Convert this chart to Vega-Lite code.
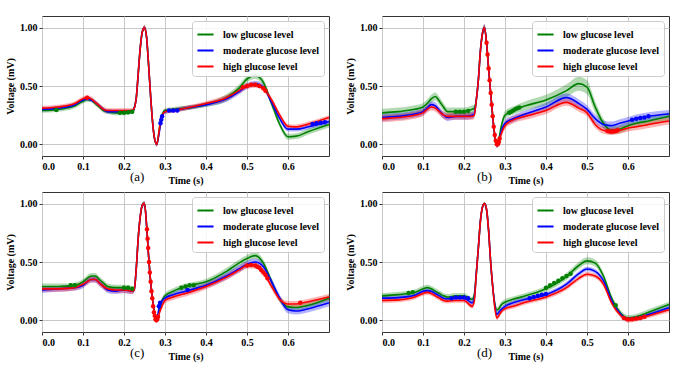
{
"$schema":"https://vega.github.io/schema/vega-lite/v6.json",
"padding":{"left":5,"top":15,"right":5,"bottom":5},
"background":"white",
"datasets":{
"cv":[
{"p":"a","s":"L","t":0,"v":0.29,"e":0.02},{"p":"a","s":"L","t":0.04,"v":0.30,"e":0.02},{"p":"a","s":"L","t":0.08,"v":0.33,"e":0.02},{"p":"a","s":"L","t":0.1,"v":0.37,"e":0.02},{"p":"a","s":"L","t":0.11,"v":0.385,"e":0.02},{"p":"a","s":"L","t":0.12,"v":0.38,"e":0.02},{"p":"a","s":"L","t":0.13,"v":0.35,"e":0.02},{"p":"a","s":"L","t":0.14,"v":0.32,"e":0.02},{"p":"a","s":"L","t":0.15,"v":0.29,"e":0.02},{"p":"a","s":"L","t":0.16,"v":0.28,"e":0.02},{"p":"a","s":"L","t":0.18,"v":0.27,"e":0.02},{"p":"a","s":"L","t":0.2,"v":0.27,"e":0.02},{"p":"a","s":"L","t":0.22,"v":0.28,"e":0.02},{"p":"a","s":"L","t":0.225,"v":0.31,"e":0.02},{"p":"a","s":"L","t":0.23,"v":0.40,"e":0.02},{"p":"a","s":"L","t":0.235,"v":0.62,"e":0.02},{"p":"a","s":"L","t":0.24,"v":0.84,"e":0.02},{"p":"a","s":"L","t":0.245,"v":0.97,"e":0.02},{"p":"a","s":"L","t":0.25,"v":1.0,"e":0.02},{"p":"a","s":"L","t":0.255,"v":0.92,"e":0.02},{"p":"a","s":"L","t":0.26,"v":0.68,"e":0.02},{"p":"a","s":"L","t":0.265,"v":0.41,"e":0.02},{"p":"a","s":"L","t":0.27,"v":0.18,"e":0.02},{"p":"a","s":"L","t":0.275,"v":0.04,"e":0.02},{"p":"a","s":"L","t":0.28,"v":0.0,"e":0.02},{"p":"a","s":"L","t":0.285,"v":0.10,"e":0.02},{"p":"a","s":"L","t":0.29,"v":0.22,"e":0.02},{"p":"a","s":"L","t":0.3,"v":0.29,"e":0.02},{"p":"a","s":"L","t":0.32,"v":0.30,"e":0.02},{"p":"a","s":"L","t":0.35,"v":0.31,"e":0.02},{"p":"a","s":"L","t":0.4,"v":0.34,"e":0.02},{"p":"a","s":"L","t":0.45,"v":0.40,"e":0.03},{"p":"a","s":"L","t":0.48,"v":0.48,"e":0.03},{"p":"a","s":"L","t":0.5,"v":0.56,"e":0.03},{"p":"a","s":"L","t":0.52,"v":0.59,"e":0.03},{"p":"a","s":"L","t":0.54,"v":0.53,"e":0.03},{"p":"a","s":"L","t":0.56,"v":0.35,"e":0.03},{"p":"a","s":"L","t":0.58,"v":0.17,"e":0.025},{"p":"a","s":"L","t":0.6,"v":0.065,"e":0.025},{"p":"a","s":"L","t":0.62,"v":0.07,"e":0.025},{"p":"a","s":"L","t":0.65,"v":0.11,"e":0.025},{"p":"a","s":"L","t":0.7,"v":0.17,"e":0.025},
{"p":"a","s":"M","t":0,"v":0.30,"e":0.018},{"p":"a","s":"M","t":0.04,"v":0.31,"e":0.018},{"p":"a","s":"M","t":0.08,"v":0.34,"e":0.018},{"p":"a","s":"M","t":0.1,"v":0.38,"e":0.018},{"p":"a","s":"M","t":0.11,"v":0.39,"e":0.018},{"p":"a","s":"M","t":0.12,"v":0.38,"e":0.018},{"p":"a","s":"M","t":0.13,"v":0.36,"e":0.018},{"p":"a","s":"M","t":0.14,"v":0.33,"e":0.018},{"p":"a","s":"M","t":0.15,"v":0.30,"e":0.018},{"p":"a","s":"M","t":0.16,"v":0.28,"e":0.018},{"p":"a","s":"M","t":0.18,"v":0.28,"e":0.018},{"p":"a","s":"M","t":0.2,"v":0.28,"e":0.018},{"p":"a","s":"M","t":0.22,"v":0.28,"e":0.018},{"p":"a","s":"M","t":0.225,"v":0.31,"e":0.018},{"p":"a","s":"M","t":0.23,"v":0.40,"e":0.018},{"p":"a","s":"M","t":0.235,"v":0.62,"e":0.018},{"p":"a","s":"M","t":0.24,"v":0.84,"e":0.018},{"p":"a","s":"M","t":0.245,"v":0.97,"e":0.018},{"p":"a","s":"M","t":0.25,"v":1.0,"e":0.018},{"p":"a","s":"M","t":0.255,"v":0.92,"e":0.018},{"p":"a","s":"M","t":0.26,"v":0.68,"e":0.018},{"p":"a","s":"M","t":0.265,"v":0.41,"e":0.018},{"p":"a","s":"M","t":0.27,"v":0.18,"e":0.018},{"p":"a","s":"M","t":0.275,"v":0.04,"e":0.018},{"p":"a","s":"M","t":0.28,"v":0.0,"e":0.018},{"p":"a","s":"M","t":0.285,"v":0.08,"e":0.018},{"p":"a","s":"M","t":0.29,"v":0.19,"e":0.018},{"p":"a","s":"M","t":0.3,"v":0.28,"e":0.018},{"p":"a","s":"M","t":0.32,"v":0.29,"e":0.018},{"p":"a","s":"M","t":0.35,"v":0.31,"e":0.018},{"p":"a","s":"M","t":0.4,"v":0.34,"e":0.018},{"p":"a","s":"M","t":0.45,"v":0.39,"e":0.025},{"p":"a","s":"M","t":0.48,"v":0.45,"e":0.025},{"p":"a","s":"M","t":0.5,"v":0.50,"e":0.025},{"p":"a","s":"M","t":0.52,"v":0.52,"e":0.025},{"p":"a","s":"M","t":0.54,"v":0.49,"e":0.025},{"p":"a","s":"M","t":0.56,"v":0.36,"e":0.025},{"p":"a","s":"M","t":0.58,"v":0.22,"e":0.02},{"p":"a","s":"M","t":0.6,"v":0.13,"e":0.02},{"p":"a","s":"M","t":0.62,"v":0.13,"e":0.02},{"p":"a","s":"M","t":0.65,"v":0.15,"e":0.02},{"p":"a","s":"M","t":0.7,"v":0.195,"e":0.02},
{"p":"a","s":"H","t":0,"v":0.31,"e":0.02},{"p":"a","s":"H","t":0.04,"v":0.32,"e":0.02},{"p":"a","s":"H","t":0.08,"v":0.35,"e":0.02},{"p":"a","s":"H","t":0.1,"v":0.39,"e":0.02},{"p":"a","s":"H","t":0.11,"v":0.40,"e":0.02},{"p":"a","s":"H","t":0.12,"v":0.39,"e":0.02},{"p":"a","s":"H","t":0.13,"v":0.36,"e":0.02},{"p":"a","s":"H","t":0.14,"v":0.33,"e":0.02},{"p":"a","s":"H","t":0.15,"v":0.30,"e":0.02},{"p":"a","s":"H","t":0.16,"v":0.29,"e":0.02},{"p":"a","s":"H","t":0.18,"v":0.29,"e":0.02},{"p":"a","s":"H","t":0.2,"v":0.29,"e":0.02},{"p":"a","s":"H","t":0.22,"v":0.29,"e":0.02},{"p":"a","s":"H","t":0.225,"v":0.31,"e":0.02},{"p":"a","s":"H","t":0.23,"v":0.40,"e":0.02},{"p":"a","s":"H","t":0.235,"v":0.62,"e":0.02},{"p":"a","s":"H","t":0.24,"v":0.84,"e":0.02},{"p":"a","s":"H","t":0.245,"v":0.97,"e":0.02},{"p":"a","s":"H","t":0.25,"v":1.0,"e":0.025},{"p":"a","s":"H","t":0.255,"v":0.92,"e":0.02},{"p":"a","s":"H","t":0.26,"v":0.68,"e":0.02},{"p":"a","s":"H","t":0.265,"v":0.41,"e":0.02},{"p":"a","s":"H","t":0.27,"v":0.18,"e":0.02},{"p":"a","s":"H","t":0.275,"v":0.04,"e":0.02},{"p":"a","s":"H","t":0.28,"v":0.0,"e":0.02},{"p":"a","s":"H","t":0.285,"v":0.10,"e":0.02},{"p":"a","s":"H","t":0.29,"v":0.22,"e":0.02},{"p":"a","s":"H","t":0.3,"v":0.28,"e":0.02},{"p":"a","s":"H","t":0.32,"v":0.29,"e":0.02},{"p":"a","s":"H","t":0.35,"v":0.31,"e":0.02},{"p":"a","s":"H","t":0.4,"v":0.35,"e":0.02},{"p":"a","s":"H","t":0.45,"v":0.40,"e":0.025},{"p":"a","s":"H","t":0.48,"v":0.46,"e":0.025},{"p":"a","s":"H","t":0.5,"v":0.50,"e":0.025},{"p":"a","s":"H","t":0.52,"v":0.51,"e":0.025},{"p":"a","s":"H","t":0.54,"v":0.48,"e":0.025},{"p":"a","s":"H","t":0.56,"v":0.38,"e":0.025},{"p":"a","s":"H","t":0.58,"v":0.25,"e":0.02},{"p":"a","s":"H","t":0.6,"v":0.155,"e":0.02},{"p":"a","s":"H","t":0.62,"v":0.15,"e":0.02},{"p":"a","s":"H","t":0.65,"v":0.175,"e":0.02},{"p":"a","s":"H","t":0.7,"v":0.23,"e":0.02},

{"p":"b","s":"L","t":0,"v":0.27,"e":0.035},{"p":"b","s":"L","t":0.04,"v":0.28,"e":0.035},{"p":"b","s":"L","t":0.08,"v":0.30,"e":0.035},{"p":"b","s":"L","t":0.1,"v":0.32,"e":0.035},{"p":"b","s":"L","t":0.11,"v":0.35,"e":0.035},{"p":"b","s":"L","t":0.12,"v":0.39,"e":0.035},{"p":"b","s":"L","t":0.13,"v":0.41,"e":0.035},{"p":"b","s":"L","t":0.14,"v":0.37,"e":0.035},{"p":"b","s":"L","t":0.15,"v":0.32,"e":0.035},{"p":"b","s":"L","t":0.16,"v":0.28,"e":0.035},{"p":"b","s":"L","t":0.18,"v":0.28,"e":0.035},{"p":"b","s":"L","t":0.2,"v":0.28,"e":0.035},{"p":"b","s":"L","t":0.22,"v":0.30,"e":0.035},{"p":"b","s":"L","t":0.225,"v":0.31,"e":0.03},{"p":"b","s":"L","t":0.23,"v":0.38,"e":0.03},{"p":"b","s":"L","t":0.235,"v":0.55,"e":0.03},{"p":"b","s":"L","t":0.24,"v":0.80,"e":0.03},{"p":"b","s":"L","t":0.245,"v":0.95,"e":0.03},{"p":"b","s":"L","t":0.25,"v":1.0,"e":0.03},{"p":"b","s":"L","t":0.255,"v":0.87,"e":0.03},{"p":"b","s":"L","t":0.26,"v":0.65,"e":0.03},{"p":"b","s":"L","t":0.265,"v":0.44,"e":0.03},{"p":"b","s":"L","t":0.27,"v":0.24,"e":0.03},{"p":"b","s":"L","t":0.275,"v":0.08,"e":0.03},{"p":"b","s":"L","t":0.28,"v":0.0,"e":0.03},{"p":"b","s":"L","t":0.285,"v":0.04,"e":0.03},{"p":"b","s":"L","t":0.29,"v":0.14,"e":0.03},{"p":"b","s":"L","t":0.3,"v":0.25,"e":0.035},{"p":"b","s":"L","t":0.32,"v":0.29,"e":0.035},{"p":"b","s":"L","t":0.35,"v":0.33,"e":0.04},{"p":"b","s":"L","t":0.4,"v":0.38,"e":0.045},{"p":"b","s":"L","t":0.45,"v":0.46,"e":0.055},{"p":"b","s":"L","t":0.48,"v":0.52,"e":0.06},{"p":"b","s":"L","t":0.5,"v":0.49,"e":0.06},{"p":"b","s":"L","t":0.52,"v":0.32,"e":0.05},{"p":"b","s":"L","t":0.54,"v":0.18,"e":0.04},{"p":"b","s":"L","t":0.56,"v":0.12,"e":0.035},{"p":"b","s":"L","t":0.58,"v":0.13,"e":0.035},{"p":"b","s":"L","t":0.6,"v":0.16,"e":0.035},{"p":"b","s":"L","t":0.62,"v":0.18,"e":0.035},{"p":"b","s":"L","t":0.65,"v":0.20,"e":0.035},{"p":"b","s":"L","t":0.7,"v":0.24,"e":0.035},
{"p":"b","s":"M","t":0,"v":0.23,"e":0.03},{"p":"b","s":"M","t":0.04,"v":0.24,"e":0.03},{"p":"b","s":"M","t":0.08,"v":0.26,"e":0.03},{"p":"b","s":"M","t":0.1,"v":0.28,"e":0.03},{"p":"b","s":"M","t":0.11,"v":0.31,"e":0.03},{"p":"b","s":"M","t":0.12,"v":0.34,"e":0.03},{"p":"b","s":"M","t":0.13,"v":0.33,"e":0.03},{"p":"b","s":"M","t":0.14,"v":0.29,"e":0.03},{"p":"b","s":"M","t":0.15,"v":0.25,"e":0.03},{"p":"b","s":"M","t":0.16,"v":0.23,"e":0.03},{"p":"b","s":"M","t":0.18,"v":0.24,"e":0.03},{"p":"b","s":"M","t":0.2,"v":0.24,"e":0.03},{"p":"b","s":"M","t":0.22,"v":0.25,"e":0.03},{"p":"b","s":"M","t":0.225,"v":0.26,"e":0.03},{"p":"b","s":"M","t":0.23,"v":0.38,"e":0.03},{"p":"b","s":"M","t":0.235,"v":0.55,"e":0.03},{"p":"b","s":"M","t":0.24,"v":0.80,"e":0.03},{"p":"b","s":"M","t":0.245,"v":0.95,"e":0.03},{"p":"b","s":"M","t":0.25,"v":1.0,"e":0.03},{"p":"b","s":"M","t":0.255,"v":0.87,"e":0.03},{"p":"b","s":"M","t":0.26,"v":0.65,"e":0.03},{"p":"b","s":"M","t":0.265,"v":0.44,"e":0.03},{"p":"b","s":"M","t":0.27,"v":0.24,"e":0.03},{"p":"b","s":"M","t":0.275,"v":0.08,"e":0.03},{"p":"b","s":"M","t":0.28,"v":0.0,"e":0.03},{"p":"b","s":"M","t":0.285,"v":0.02,"e":0.03},{"p":"b","s":"M","t":0.29,"v":0.10,"e":0.03},{"p":"b","s":"M","t":0.3,"v":0.18,"e":0.03},{"p":"b","s":"M","t":0.32,"v":0.22,"e":0.03},{"p":"b","s":"M","t":0.35,"v":0.26,"e":0.03},{"p":"b","s":"M","t":0.4,"v":0.32,"e":0.035},{"p":"b","s":"M","t":0.45,"v":0.40,"e":0.035},{"p":"b","s":"M","t":0.48,"v":0.35,"e":0.035},{"p":"b","s":"M","t":0.5,"v":0.30,"e":0.035},{"p":"b","s":"M","t":0.52,"v":0.22,"e":0.035},{"p":"b","s":"M","t":0.54,"v":0.17,"e":0.035},{"p":"b","s":"M","t":0.56,"v":0.16,"e":0.035},{"p":"b","s":"M","t":0.58,"v":0.18,"e":0.035},{"p":"b","s":"M","t":0.6,"v":0.20,"e":0.035},{"p":"b","s":"M","t":0.62,"v":0.22,"e":0.035},{"p":"b","s":"M","t":0.65,"v":0.24,"e":0.035},{"p":"b","s":"M","t":0.7,"v":0.26,"e":0.035},
{"p":"b","s":"H","t":0,"v":0.22,"e":0.03},{"p":"b","s":"H","t":0.04,"v":0.23,"e":0.03},{"p":"b","s":"H","t":0.08,"v":0.25,"e":0.03},{"p":"b","s":"H","t":0.1,"v":0.27,"e":0.03},{"p":"b","s":"H","t":0.11,"v":0.30,"e":0.03},{"p":"b","s":"H","t":0.12,"v":0.32,"e":0.03},{"p":"b","s":"H","t":0.13,"v":0.31,"e":0.03},{"p":"b","s":"H","t":0.14,"v":0.28,"e":0.03},{"p":"b","s":"H","t":0.15,"v":0.25,"e":0.03},{"p":"b","s":"H","t":0.16,"v":0.24,"e":0.03},{"p":"b","s":"H","t":0.18,"v":0.24,"e":0.03},{"p":"b","s":"H","t":0.2,"v":0.24,"e":0.03},{"p":"b","s":"H","t":0.22,"v":0.24,"e":0.03},{"p":"b","s":"H","t":0.225,"v":0.25,"e":0.03},{"p":"b","s":"H","t":0.23,"v":0.38,"e":0.03},{"p":"b","s":"H","t":0.235,"v":0.55,"e":0.03},{"p":"b","s":"H","t":0.24,"v":0.80,"e":0.03},{"p":"b","s":"H","t":0.245,"v":0.95,"e":0.03},{"p":"b","s":"H","t":0.25,"v":1.0,"e":0.03},{"p":"b","s":"H","t":0.255,"v":0.87,"e":0.03},{"p":"b","s":"H","t":0.26,"v":0.65,"e":0.03},{"p":"b","s":"H","t":0.265,"v":0.44,"e":0.03},{"p":"b","s":"H","t":0.27,"v":0.24,"e":0.03},{"p":"b","s":"H","t":0.275,"v":0.08,"e":0.03},{"p":"b","s":"H","t":0.28,"v":0.0,"e":0.03},{"p":"b","s":"H","t":0.285,"v":0.02,"e":0.03},{"p":"b","s":"H","t":0.29,"v":0.08,"e":0.03},{"p":"b","s":"H","t":0.3,"v":0.16,"e":0.03},{"p":"b","s":"H","t":0.32,"v":0.21,"e":0.03},{"p":"b","s":"H","t":0.35,"v":0.24,"e":0.03},{"p":"b","s":"H","t":0.4,"v":0.29,"e":0.03},{"p":"b","s":"H","t":0.45,"v":0.36,"e":0.03},{"p":"b","s":"H","t":0.48,"v":0.31,"e":0.03},{"p":"b","s":"H","t":0.5,"v":0.27,"e":0.03},{"p":"b","s":"H","t":0.52,"v":0.17,"e":0.03},{"p":"b","s":"H","t":0.54,"v":0.12,"e":0.03},{"p":"b","s":"H","t":0.56,"v":0.11,"e":0.03},{"p":"b","s":"H","t":0.58,"v":0.12,"e":0.03},{"p":"b","s":"H","t":0.6,"v":0.14,"e":0.03},{"p":"b","s":"H","t":0.62,"v":0.15,"e":0.03},{"p":"b","s":"H","t":0.65,"v":0.17,"e":0.03},{"p":"b","s":"H","t":0.7,"v":0.20,"e":0.03},

{"p":"c","s":"L","t":0,"v":0.29,"e":0.025},{"p":"c","s":"L","t":0.04,"v":0.29,"e":0.025},{"p":"c","s":"L","t":0.08,"v":0.30,"e":0.025},{"p":"c","s":"L","t":0.1,"v":0.33,"e":0.025},{"p":"c","s":"L","t":0.11,"v":0.36,"e":0.025},{"p":"c","s":"L","t":0.12,"v":0.38,"e":0.025},{"p":"c","s":"L","t":0.13,"v":0.38,"e":0.025},{"p":"c","s":"L","t":0.14,"v":0.35,"e":0.025},{"p":"c","s":"L","t":0.15,"v":0.32,"e":0.025},{"p":"c","s":"L","t":0.16,"v":0.29,"e":0.025},{"p":"c","s":"L","t":0.18,"v":0.28,"e":0.025},{"p":"c","s":"L","t":0.2,"v":0.28,"e":0.025},{"p":"c","s":"L","t":0.22,"v":0.27,"e":0.025},{"p":"c","s":"L","t":0.225,"v":0.27,"e":0.02},{"p":"c","s":"L","t":0.23,"v":0.45,"e":0.02},{"p":"c","s":"L","t":0.235,"v":0.72,"e":0.02},{"p":"c","s":"L","t":0.24,"v":0.90,"e":0.02},{"p":"c","s":"L","t":0.245,"v":0.99,"e":0.02},{"p":"c","s":"L","t":0.25,"v":1.0,"e":0.02},{"p":"c","s":"L","t":0.255,"v":0.82,"e":0.02},{"p":"c","s":"L","t":0.26,"v":0.55,"e":0.02},{"p":"c","s":"L","t":0.265,"v":0.33,"e":0.02},{"p":"c","s":"L","t":0.27,"v":0.17,"e":0.02},{"p":"c","s":"L","t":0.275,"v":0.04,"e":0.02},{"p":"c","s":"L","t":0.28,"v":0.0,"e":0.02},{"p":"c","s":"L","t":0.285,"v":0.06,"e":0.02},{"p":"c","s":"L","t":0.29,"v":0.14,"e":0.025},{"p":"c","s":"L","t":0.3,"v":0.21,"e":0.025},{"p":"c","s":"L","t":0.32,"v":0.25,"e":0.025},{"p":"c","s":"L","t":0.35,"v":0.29,"e":0.025},{"p":"c","s":"L","t":0.4,"v":0.33,"e":0.025},{"p":"c","s":"L","t":0.45,"v":0.42,"e":0.03},{"p":"c","s":"L","t":0.48,"v":0.49,"e":0.03},{"p":"c","s":"L","t":0.5,"v":0.53,"e":0.03},{"p":"c","s":"L","t":0.52,"v":0.555,"e":0.03},{"p":"c","s":"L","t":0.54,"v":0.49,"e":0.03},{"p":"c","s":"L","t":0.56,"v":0.33,"e":0.03},{"p":"c","s":"L","t":0.58,"v":0.18,"e":0.025},{"p":"c","s":"L","t":0.6,"v":0.115,"e":0.025},{"p":"c","s":"L","t":0.62,"v":0.11,"e":0.025},{"p":"c","s":"L","t":0.65,"v":0.13,"e":0.025},{"p":"c","s":"L","t":0.7,"v":0.19,"e":0.025},
{"p":"c","s":"M","t":0,"v":0.26,"e":0.025},{"p":"c","s":"M","t":0.04,"v":0.27,"e":0.025},{"p":"c","s":"M","t":0.08,"v":0.28,"e":0.025},{"p":"c","s":"M","t":0.1,"v":0.30,"e":0.025},{"p":"c","s":"M","t":0.11,"v":0.33,"e":0.025},{"p":"c","s":"M","t":0.12,"v":0.35,"e":0.025},{"p":"c","s":"M","t":0.13,"v":0.35,"e":0.025},{"p":"c","s":"M","t":0.14,"v":0.32,"e":0.025},{"p":"c","s":"M","t":0.15,"v":0.29,"e":0.025},{"p":"c","s":"M","t":0.16,"v":0.26,"e":0.025},{"p":"c","s":"M","t":0.18,"v":0.25,"e":0.025},{"p":"c","s":"M","t":0.2,"v":0.26,"e":0.025},{"p":"c","s":"M","t":0.22,"v":0.25,"e":0.025},{"p":"c","s":"M","t":0.225,"v":0.26,"e":0.02},{"p":"c","s":"M","t":0.23,"v":0.45,"e":0.02},{"p":"c","s":"M","t":0.235,"v":0.72,"e":0.02},{"p":"c","s":"M","t":0.24,"v":0.90,"e":0.02},{"p":"c","s":"M","t":0.245,"v":0.99,"e":0.02},{"p":"c","s":"M","t":0.25,"v":1.0,"e":0.02},{"p":"c","s":"M","t":0.255,"v":0.82,"e":0.02},{"p":"c","s":"M","t":0.26,"v":0.55,"e":0.02},{"p":"c","s":"M","t":0.265,"v":0.33,"e":0.02},{"p":"c","s":"M","t":0.27,"v":0.17,"e":0.02},{"p":"c","s":"M","t":0.275,"v":0.04,"e":0.02},{"p":"c","s":"M","t":0.28,"v":0.0,"e":0.02},{"p":"c","s":"M","t":0.285,"v":0.10,"e":0.02},{"p":"c","s":"M","t":0.29,"v":0.15,"e":0.025},{"p":"c","s":"M","t":0.3,"v":0.19,"e":0.025},{"p":"c","s":"M","t":0.32,"v":0.22,"e":0.025},{"p":"c","s":"M","t":0.35,"v":0.25,"e":0.025},{"p":"c","s":"M","t":0.4,"v":0.30,"e":0.025},{"p":"c","s":"M","t":0.45,"v":0.38,"e":0.03},{"p":"c","s":"M","t":0.48,"v":0.44,"e":0.03},{"p":"c","s":"M","t":0.5,"v":0.48,"e":0.03},{"p":"c","s":"M","t":0.52,"v":0.50,"e":0.03},{"p":"c","s":"M","t":0.54,"v":0.46,"e":0.03},{"p":"c","s":"M","t":0.56,"v":0.33,"e":0.03},{"p":"c","s":"M","t":0.58,"v":0.19,"e":0.03},{"p":"c","s":"M","t":0.6,"v":0.09,"e":0.03},{"p":"c","s":"M","t":0.62,"v":0.08,"e":0.03},{"p":"c","s":"M","t":0.65,"v":0.10,"e":0.03},{"p":"c","s":"M","t":0.7,"v":0.15,"e":0.03},
{"p":"c","s":"H","t":0,"v":0.27,"e":0.025},{"p":"c","s":"H","t":0.04,"v":0.27,"e":0.025},{"p":"c","s":"H","t":0.08,"v":0.28,"e":0.025},{"p":"c","s":"H","t":0.1,"v":0.31,"e":0.025},{"p":"c","s":"H","t":0.11,"v":0.33,"e":0.025},{"p":"c","s":"H","t":0.12,"v":0.35,"e":0.025},{"p":"c","s":"H","t":0.13,"v":0.35,"e":0.025},{"p":"c","s":"H","t":0.14,"v":0.32,"e":0.025},{"p":"c","s":"H","t":0.15,"v":0.29,"e":0.025},{"p":"c","s":"H","t":0.16,"v":0.27,"e":0.025},{"p":"c","s":"H","t":0.18,"v":0.26,"e":0.025},{"p":"c","s":"H","t":0.2,"v":0.26,"e":0.025},{"p":"c","s":"H","t":0.22,"v":0.25,"e":0.025},{"p":"c","s":"H","t":0.225,"v":0.26,"e":0.02},{"p":"c","s":"H","t":0.23,"v":0.45,"e":0.02},{"p":"c","s":"H","t":0.235,"v":0.72,"e":0.02},{"p":"c","s":"H","t":0.24,"v":0.90,"e":0.02},{"p":"c","s":"H","t":0.245,"v":0.99,"e":0.02},{"p":"c","s":"H","t":0.25,"v":1.0,"e":0.02},{"p":"c","s":"H","t":0.255,"v":0.82,"e":0.02},{"p":"c","s":"H","t":0.26,"v":0.55,"e":0.02},{"p":"c","s":"H","t":0.265,"v":0.33,"e":0.02},{"p":"c","s":"H","t":0.27,"v":0.17,"e":0.02},{"p":"c","s":"H","t":0.275,"v":0.04,"e":0.02},{"p":"c","s":"H","t":0.28,"v":0.0,"e":0.02},{"p":"c","s":"H","t":0.285,"v":0.05,"e":0.02},{"p":"c","s":"H","t":0.29,"v":0.10,"e":0.025},{"p":"c","s":"H","t":0.3,"v":0.17,"e":0.025},{"p":"c","s":"H","t":0.32,"v":0.20,"e":0.025},{"p":"c","s":"H","t":0.35,"v":0.23,"e":0.025},{"p":"c","s":"H","t":0.4,"v":0.29,"e":0.025},{"p":"c","s":"H","t":0.45,"v":0.37,"e":0.025},{"p":"c","s":"H","t":0.48,"v":0.43,"e":0.025},{"p":"c","s":"H","t":0.5,"v":0.47,"e":0.025},{"p":"c","s":"H","t":0.52,"v":0.47,"e":0.025},{"p":"c","s":"H","t":0.54,"v":0.41,"e":0.025},{"p":"c","s":"H","t":0.56,"v":0.29,"e":0.025},{"p":"c","s":"H","t":0.58,"v":0.18,"e":0.025},{"p":"c","s":"H","t":0.6,"v":0.14,"e":0.025},{"p":"c","s":"H","t":0.62,"v":0.14,"e":0.025},{"p":"c","s":"H","t":0.65,"v":0.16,"e":0.025},{"p":"c","s":"H","t":0.7,"v":0.20,"e":0.025},

{"p":"d","s":"L","t":0,"v":0.21,"e":0.025},{"p":"d","s":"L","t":0.04,"v":0.22,"e":0.025},{"p":"d","s":"L","t":0.08,"v":0.24,"e":0.025},{"p":"d","s":"L","t":0.1,"v":0.27,"e":0.025},{"p":"d","s":"L","t":0.11,"v":0.28,"e":0.025},{"p":"d","s":"L","t":0.12,"v":0.27,"e":0.025},{"p":"d","s":"L","t":0.13,"v":0.25,"e":0.025},{"p":"d","s":"L","t":0.14,"v":0.23,"e":0.025},{"p":"d","s":"L","t":0.15,"v":0.21,"e":0.025},{"p":"d","s":"L","t":0.16,"v":0.20,"e":0.025},{"p":"d","s":"L","t":0.18,"v":0.21,"e":0.025},{"p":"d","s":"L","t":0.2,"v":0.21,"e":0.025},{"p":"d","s":"L","t":0.22,"v":0.18,"e":0.02},{"p":"d","s":"L","t":0.225,"v":0.22,"e":0.02},{"p":"d","s":"L","t":0.23,"v":0.40,"e":0.015},{"p":"d","s":"L","t":0.235,"v":0.62,"e":0.015},{"p":"d","s":"L","t":0.24,"v":0.85,"e":0.015},{"p":"d","s":"L","t":0.245,"v":0.97,"e":0.015},{"p":"d","s":"L","t":0.25,"v":1.0,"e":0.015},{"p":"d","s":"L","t":0.255,"v":0.95,"e":0.015},{"p":"d","s":"L","t":0.26,"v":0.77,"e":0.015},{"p":"d","s":"L","t":0.265,"v":0.50,"e":0.015},{"p":"d","s":"L","t":0.27,"v":0.29,"e":0.015},{"p":"d","s":"L","t":0.275,"v":0.15,"e":0.02},{"p":"d","s":"L","t":0.28,"v":0.09,"e":0.02},{"p":"d","s":"L","t":0.285,"v":0.10,"e":0.025},{"p":"d","s":"L","t":0.29,"v":0.13,"e":0.025},{"p":"d","s":"L","t":0.3,"v":0.155,"e":0.025},{"p":"d","s":"L","t":0.32,"v":0.18,"e":0.025},{"p":"d","s":"L","t":0.35,"v":0.21,"e":0.025},{"p":"d","s":"L","t":0.4,"v":0.27,"e":0.025},{"p":"d","s":"L","t":0.45,"v":0.375,"e":0.03},{"p":"d","s":"L","t":0.48,"v":0.47,"e":0.03},{"p":"d","s":"L","t":0.5,"v":0.51,"e":0.03},{"p":"d","s":"L","t":0.52,"v":0.49,"e":0.03},{"p":"d","s":"L","t":0.54,"v":0.38,"e":0.03},{"p":"d","s":"L","t":0.56,"v":0.19,"e":0.03},{"p":"d","s":"L","t":0.58,"v":0.07,"e":0.025},{"p":"d","s":"L","t":0.6,"v":0.02,"e":0.025},{"p":"d","s":"L","t":0.62,"v":0.03,"e":0.025},{"p":"d","s":"L","t":0.65,"v":0.07,"e":0.025},{"p":"d","s":"L","t":0.7,"v":0.135,"e":0.025},
{"p":"d","s":"M","t":0,"v":0.19,"e":0.02},{"p":"d","s":"M","t":0.04,"v":0.195,"e":0.02},{"p":"d","s":"M","t":0.08,"v":0.215,"e":0.02},{"p":"d","s":"M","t":0.1,"v":0.25,"e":0.02},{"p":"d","s":"M","t":0.11,"v":0.255,"e":0.02},{"p":"d","s":"M","t":0.12,"v":0.25,"e":0.02},{"p":"d","s":"M","t":0.13,"v":0.23,"e":0.02},{"p":"d","s":"M","t":0.14,"v":0.21,"e":0.02},{"p":"d","s":"M","t":0.15,"v":0.19,"e":0.02},{"p":"d","s":"M","t":0.16,"v":0.185,"e":0.02},{"p":"d","s":"M","t":0.18,"v":0.19,"e":0.02},{"p":"d","s":"M","t":0.2,"v":0.19,"e":0.02},{"p":"d","s":"M","t":0.22,"v":0.15,"e":0.02},{"p":"d","s":"M","t":0.225,"v":0.19,"e":0.02},{"p":"d","s":"M","t":0.23,"v":0.40,"e":0.015},{"p":"d","s":"M","t":0.235,"v":0.62,"e":0.015},{"p":"d","s":"M","t":0.24,"v":0.85,"e":0.015},{"p":"d","s":"M","t":0.245,"v":0.97,"e":0.015},{"p":"d","s":"M","t":0.25,"v":1.0,"e":0.015},{"p":"d","s":"M","t":0.255,"v":0.95,"e":0.015},{"p":"d","s":"M","t":0.26,"v":0.77,"e":0.015},{"p":"d","s":"M","t":0.265,"v":0.50,"e":0.015},{"p":"d","s":"M","t":0.27,"v":0.29,"e":0.015},{"p":"d","s":"M","t":0.275,"v":0.13,"e":0.02},{"p":"d","s":"M","t":0.28,"v":0.05,"e":0.02},{"p":"d","s":"M","t":0.285,"v":0.07,"e":0.02},{"p":"d","s":"M","t":0.29,"v":0.09,"e":0.02},{"p":"d","s":"M","t":0.3,"v":0.12,"e":0.02},{"p":"d","s":"M","t":0.32,"v":0.15,"e":0.02},{"p":"d","s":"M","t":0.35,"v":0.18,"e":0.02},{"p":"d","s":"M","t":0.4,"v":0.22,"e":0.02},{"p":"d","s":"M","t":0.45,"v":0.31,"e":0.02},{"p":"d","s":"M","t":0.48,"v":0.40,"e":0.02},{"p":"d","s":"M","t":0.5,"v":0.44,"e":0.02},{"p":"d","s":"M","t":0.52,"v":0.42,"e":0.02},{"p":"d","s":"M","t":0.54,"v":0.34,"e":0.02},{"p":"d","s":"M","t":0.56,"v":0.17,"e":0.02},{"p":"d","s":"M","t":0.58,"v":0.06,"e":0.02},{"p":"d","s":"M","t":0.6,"v":0.01,"e":0.02},{"p":"d","s":"M","t":0.62,"v":0.02,"e":0.02},{"p":"d","s":"M","t":0.65,"v":0.05,"e":0.02},{"p":"d","s":"M","t":0.7,"v":0.107,"e":0.02},
{"p":"d","s":"H","t":0,"v":0.17,"e":0.02},{"p":"d","s":"H","t":0.04,"v":0.175,"e":0.02},{"p":"d","s":"H","t":0.08,"v":0.20,"e":0.02},{"p":"d","s":"H","t":0.1,"v":0.23,"e":0.02},{"p":"d","s":"H","t":0.11,"v":0.24,"e":0.02},{"p":"d","s":"H","t":0.12,"v":0.23,"e":0.02},{"p":"d","s":"H","t":0.13,"v":0.21,"e":0.02},{"p":"d","s":"H","t":0.14,"v":0.19,"e":0.02},{"p":"d","s":"H","t":0.15,"v":0.17,"e":0.02},{"p":"d","s":"H","t":0.16,"v":0.165,"e":0.02},{"p":"d","s":"H","t":0.18,"v":0.17,"e":0.02},{"p":"d","s":"H","t":0.2,"v":0.17,"e":0.02},{"p":"d","s":"H","t":0.22,"v":0.12,"e":0.02},{"p":"d","s":"H","t":0.225,"v":0.16,"e":0.02},{"p":"d","s":"H","t":0.23,"v":0.40,"e":0.015},{"p":"d","s":"H","t":0.235,"v":0.62,"e":0.015},{"p":"d","s":"H","t":0.24,"v":0.85,"e":0.015},{"p":"d","s":"H","t":0.245,"v":0.97,"e":0.015},{"p":"d","s":"H","t":0.25,"v":1.0,"e":0.015},{"p":"d","s":"H","t":0.255,"v":0.95,"e":0.015},{"p":"d","s":"H","t":0.26,"v":0.77,"e":0.015},{"p":"d","s":"H","t":0.265,"v":0.50,"e":0.015},{"p":"d","s":"H","t":0.27,"v":0.29,"e":0.015},{"p":"d","s":"H","t":0.275,"v":0.11,"e":0.02},{"p":"d","s":"H","t":0.28,"v":0.02,"e":0.02},{"p":"d","s":"H","t":0.285,"v":0.04,"e":0.02},{"p":"d","s":"H","t":0.29,"v":0.07,"e":0.02},{"p":"d","s":"H","t":0.3,"v":0.10,"e":0.02},{"p":"d","s":"H","t":0.32,"v":0.12,"e":0.02},{"p":"d","s":"H","t":0.35,"v":0.155,"e":0.02},{"p":"d","s":"H","t":0.4,"v":0.20,"e":0.02},{"p":"d","s":"H","t":0.45,"v":0.28,"e":0.02},{"p":"d","s":"H","t":0.48,"v":0.36,"e":0.02},{"p":"d","s":"H","t":0.5,"v":0.395,"e":0.02},{"p":"d","s":"H","t":0.52,"v":0.38,"e":0.02},{"p":"d","s":"H","t":0.54,"v":0.31,"e":0.02},{"p":"d","s":"H","t":0.56,"v":0.15,"e":0.02},{"p":"d","s":"H","t":0.58,"v":0.05,"e":0.02},{"p":"d","s":"H","t":0.6,"v":0.0,"e":0.02},{"p":"d","s":"H","t":0.62,"v":0.01,"e":0.02},{"p":"d","s":"H","t":0.65,"v":0.04,"e":0.02},{"p":"d","s":"H","t":0.7,"v":0.09,"e":0.02}
],
"mk":[
{"p":"a","s":"L","t":0.035,"v":0.295},{"p":"a","s":"L","t":0.19,"v":0.27},{"p":"a","s":"L","t":0.2,"v":0.27},{"p":"a","s":"L","t":0.21,"v":0.275},{"p":"a","s":"L","t":0.22,"v":0.28},
{"p":"a","s":"M","t":0.289,"v":0.18},{"p":"a","s":"M","t":0.291,"v":0.21},{"p":"a","s":"M","t":0.293,"v":0.24},{"p":"a","s":"M","t":0.31,"v":0.29},{"p":"a","s":"M","t":0.32,"v":0.29},{"p":"a","s":"M","t":0.33,"v":0.29},{"p":"a","s":"M","t":0.66,"v":0.175},{"p":"a","s":"M","t":0.67,"v":0.18},{"p":"a","s":"M","t":0.68,"v":0.185},{"p":"a","s":"M","t":0.69,"v":0.19},
{"p":"a","s":"H","t":0.11,"v":0.40},{"p":"a","s":"H","t":0.49,"v":0.49},{"p":"a","s":"H","t":0.5,"v":0.50},{"p":"a","s":"H","t":0.51,"v":0.51},{"p":"a","s":"H","t":0.52,"v":0.51},{"p":"a","s":"H","t":0.53,"v":0.50},{"p":"a","s":"H","t":0.54,"v":0.48},{"p":"a","s":"H","t":0.545,"v":0.46},
{"p":"b","s":"L","t":0.18,"v":0.28},{"p":"b","s":"L","t":0.19,"v":0.28},{"p":"b","s":"L","t":0.2,"v":0.28},{"p":"b","s":"L","t":0.21,"v":0.285},{"p":"b","s":"L","t":0.31,"v":0.27},{"p":"b","s":"L","t":0.315,"v":0.28},{"p":"b","s":"L","t":0.32,"v":0.29},{"p":"b","s":"L","t":0.325,"v":0.30},{"p":"b","s":"L","t":0.33,"v":0.31},{"p":"b","s":"L","t":0.335,"v":0.315},
{"p":"b","s":"M","t":0.61,"v":0.21},{"p":"b","s":"M","t":0.62,"v":0.22},{"p":"b","s":"M","t":0.63,"v":0.225},{"p":"b","s":"M","t":0.64,"v":0.23},{"p":"b","s":"M","t":0.65,"v":0.24},
{"p":"b","s":"H","t":0.255,"v":0.87},{"p":"b","s":"H","t":0.2575,"v":0.77},{"p":"b","s":"H","t":0.26,"v":0.65},{"p":"b","s":"H","t":0.2625,"v":0.55},{"p":"b","s":"H","t":0.265,"v":0.44},{"p":"b","s":"H","t":0.2675,"v":0.34},{"p":"b","s":"H","t":0.27,"v":0.24},{"p":"b","s":"H","t":0.2725,"v":0.15},{"p":"b","s":"H","t":0.275,"v":0.08},{"p":"b","s":"H","t":0.2775,"v":0.03},{"p":"b","s":"H","t":0.28,"v":0.0},{"p":"b","s":"H","t":0.2825,"v":0.0},{"p":"b","s":"H","t":0.285,"v":0.02},{"p":"b","s":"H","t":0.287,"v":0.05},{"p":"b","s":"H","t":0.55,"v":0.115},{"p":"b","s":"H","t":0.555,"v":0.11},{"p":"b","s":"H","t":0.56,"v":0.11},{"p":"b","s":"H","t":0.565,"v":0.11},{"p":"b","s":"H","t":0.57,"v":0.115},{"p":"b","s":"H","t":0.575,"v":0.12},
{"p":"c","s":"L","t":0.07,"v":0.30},{"p":"c","s":"L","t":0.08,"v":0.30},{"p":"c","s":"L","t":0.2,"v":0.28},{"p":"c","s":"L","t":0.21,"v":0.28},{"p":"c","s":"L","t":0.22,"v":0.27},{"p":"c","s":"L","t":0.34,"v":0.28},{"p":"c","s":"L","t":0.35,"v":0.29},{"p":"c","s":"L","t":0.36,"v":0.30},{"p":"c","s":"L","t":0.37,"v":0.30},
{"p":"c","s":"M","t":0.285,"v":0.12},{"p":"c","s":"M","t":0.288,"v":0.15},{"p":"c","s":"M","t":0.355,"v":0.26},
{"p":"c","s":"H","t":0.256,"v":0.78},{"p":"c","s":"H","t":0.2575,"v":0.70},{"p":"c","s":"H","t":0.259,"v":0.62},{"p":"c","s":"H","t":0.261,"v":0.50},{"p":"c","s":"H","t":0.263,"v":0.41},{"p":"c","s":"H","t":0.265,"v":0.33},{"p":"c","s":"H","t":0.267,"v":0.25},{"p":"c","s":"H","t":0.269,"v":0.19},{"p":"c","s":"H","t":0.271,"v":0.12},{"p":"c","s":"H","t":0.273,"v":0.07},{"p":"c","s":"H","t":0.275,"v":0.04},{"p":"c","s":"H","t":0.277,"v":0.01},{"p":"c","s":"H","t":0.279,"v":0.0},{"p":"c","s":"H","t":0.281,"v":0.01},{"p":"c","s":"H","t":0.283,"v":0.03},{"p":"c","s":"H","t":0.5,"v":0.47},{"p":"c","s":"H","t":0.51,"v":0.475},{"p":"c","s":"H","t":0.52,"v":0.47},{"p":"c","s":"H","t":0.525,"v":0.46},{"p":"c","s":"H","t":0.53,"v":0.45},{"p":"c","s":"H","t":0.535,"v":0.43},{"p":"c","s":"H","t":0.54,"v":0.41},{"p":"c","s":"H","t":0.545,"v":0.39},{"p":"c","s":"H","t":0.55,"v":0.36},{"p":"c","s":"H","t":0.63,"v":0.15},
{"p":"d","s":"L","t":0.065,"v":0.235},{"p":"d","s":"L","t":0.075,"v":0.24},{"p":"d","s":"L","t":0.4,"v":0.28},{"p":"d","s":"L","t":0.41,"v":0.30},{"p":"d","s":"L","t":0.42,"v":0.32},{"p":"d","s":"L","t":0.43,"v":0.34},{"p":"d","s":"L","t":0.44,"v":0.36},{"p":"d","s":"L","t":0.45,"v":0.38},{"p":"d","s":"L","t":0.46,"v":0.40},{"p":"d","s":"L","t":0.57,"v":0.13},
{"p":"d","s":"M","t":0.17,"v":0.19},{"p":"d","s":"M","t":0.18,"v":0.195},{"p":"d","s":"M","t":0.19,"v":0.195},{"p":"d","s":"M","t":0.2,"v":0.195},{"p":"d","s":"M","t":0.21,"v":0.19},{"p":"d","s":"M","t":0.36,"v":0.19},{"p":"d","s":"M","t":0.37,"v":0.20},{"p":"d","s":"M","t":0.38,"v":0.21},{"p":"d","s":"M","t":0.39,"v":0.22},{"p":"d","s":"M","t":0.4,"v":0.225},
{"p":"d","s":"H","t":0.59,"v":0.02},{"p":"d","s":"H","t":0.6,"v":0.01},{"p":"d","s":"H","t":0.61,"v":0.01},{"p":"d","s":"H","t":0.62,"v":0.015},{"p":"d","s":"H","t":0.63,"v":0.02},{"p":"d","s":"H","t":0.64,"v":0.03}
]
},
"vconcat":[
{"hconcat":[
{"width":287,"height":140,
 "title":{"text":"(a)","orient":"bottom","anchor":"start","frame":"group","dx":88,"offset":-14},
 "layer":[
  {"data":{"name":"cv"},"transform":[{"filter":"datum.p==='a'"}],"mark":{"type":"errorband","interpolate":"monotone","band":{"opacity":0.3}},
   "encoding":{"x":{"field":"t","type":"quantitative","scale":{"domain":[0,0.7],"nice":false},"axis":{"values":[0,0.1,0.2,0.3,0.4,0.5,0.6],"format":".1f","title":"Time (s)"}},
    "y":{"field":"v","type":"quantitative","scale":{"domain":[-0.1,1.1],"nice":false},"axis":{"values":[0,0.25,0.5,0.75,1],"format":".2f","title":"Voltage (mV)"}},
    "yError":{"field":"e"},
    "color":{"field":"s","type":"nominal","scale":{"domain":["L","M","H"],"range":["#008000","#0000ff","#ff0000"]},"legend":{"orient":"top-right","title":null,"symbolType":"stroke","symbolOpacity":1,"labelExpr":"datum.label=='L'?'low glucose level':datum.label=='M'?'moderate glucose level':'high glucose level'"}}}},
  {"data":{"name":"cv"},"transform":[{"filter":"datum.p==='a'"}],"mark":{"type":"line","interpolate":"monotone","strokeWidth":1.6},
   "encoding":{"x":{"field":"t","type":"quantitative"},"y":{"field":"v","type":"quantitative"},
    "color":{"field":"s","type":"nominal","legend":{"orient":"top-right","title":null,"symbolType":"stroke","symbolOpacity":1,"labelExpr":"datum.label=='L'?'low glucose level':datum.label=='M'?'moderate glucose level':'high glucose level'"}}}},
  {"data":{"name":"mk"},"transform":[{"filter":"datum.p==='a'"}],"mark":{"type":"circle","size":20,"opacity":1},
   "encoding":{"x":{"field":"t","type":"quantitative"},"y":{"field":"v","type":"quantitative"},"color":{"field":"s","type":"nominal"}}}
 ]},
{"width":287,"height":140,
 "title":{"text":"(b)","orient":"bottom","anchor":"start","frame":"group","dx":95,"offset":-14},
 "layer":[
  {"data":{"name":"cv"},"transform":[{"filter":"datum.p==='b'"}],"mark":{"type":"errorband","interpolate":"monotone","band":{"opacity":0.3}},
   "encoding":{"x":{"field":"t","type":"quantitative","scale":{"domain":[0,0.7],"nice":false},"axis":{"values":[0,0.1,0.2,0.3,0.4,0.5,0.6],"format":".1f","title":"Time (s)"}},
    "y":{"field":"v","type":"quantitative","scale":{"domain":[-0.1,1.1],"nice":false},"axis":{"values":[0,0.25,0.5,0.75,1],"format":".2f","title":"Voltage (mV)"}},
    "yError":{"field":"e"},
    "color":{"field":"s","type":"nominal","scale":{"domain":["L","M","H"],"range":["#008000","#0000ff","#ff0000"]},"legend":{"orient":"top-right","title":null,"symbolType":"stroke","symbolOpacity":1,"labelExpr":"datum.label=='L'?'low glucose level':datum.label=='M'?'moderate glucose level':'high glucose level'"}}}},
  {"data":{"name":"cv"},"transform":[{"filter":"datum.p==='b'"}],"mark":{"type":"line","interpolate":"monotone","strokeWidth":1.6},
   "encoding":{"x":{"field":"t","type":"quantitative"},"y":{"field":"v","type":"quantitative"},
    "color":{"field":"s","type":"nominal","legend":{"orient":"top-right","title":null,"symbolType":"stroke","symbolOpacity":1,"labelExpr":"datum.label=='L'?'low glucose level':datum.label=='M'?'moderate glucose level':'high glucose level'"}}}},
  {"data":{"name":"mk"},"transform":[{"filter":"datum.p==='b'"}],"mark":{"type":"circle","size":20,"opacity":1},
   "encoding":{"x":{"field":"t","type":"quantitative"},"y":{"field":"v","type":"quantitative"},"color":{"field":"s","type":"nominal"}}}
 ]}
],"spacing":12,"resolve":{"scale":{"color":"independent"},"legend":{"color":"independent"}}},
{"hconcat":[
{"width":287,"height":140,
 "title":{"text":"(c)","orient":"bottom","anchor":"start","frame":"group","dx":88,"offset":-14},
 "layer":[
  {"data":{"name":"cv"},"transform":[{"filter":"datum.p==='c'"}],"mark":{"type":"errorband","interpolate":"monotone","band":{"opacity":0.3}},
   "encoding":{"x":{"field":"t","type":"quantitative","scale":{"domain":[0,0.7],"nice":false},"axis":{"values":[0,0.1,0.2,0.3,0.4,0.5,0.6],"format":".1f","title":"Time (s)"}},
    "y":{"field":"v","type":"quantitative","scale":{"domain":[-0.1,1.1],"nice":false},"axis":{"values":[0,0.25,0.5,0.75,1],"format":".2f","title":"Voltage (mV)"}},
    "yError":{"field":"e"},
    "color":{"field":"s","type":"nominal","scale":{"domain":["L","M","H"],"range":["#008000","#0000ff","#ff0000"]},"legend":{"orient":"top-right","title":null,"symbolType":"stroke","symbolOpacity":1,"labelExpr":"datum.label=='L'?'low glucose level':datum.label=='M'?'moderate glucose level':'high glucose level'"}}}},
  {"data":{"name":"cv"},"transform":[{"filter":"datum.p==='c'"}],"mark":{"type":"line","interpolate":"monotone","strokeWidth":1.6},
   "encoding":{"x":{"field":"t","type":"quantitative"},"y":{"field":"v","type":"quantitative"},
    "color":{"field":"s","type":"nominal","legend":{"orient":"top-right","title":null,"symbolType":"stroke","symbolOpacity":1,"labelExpr":"datum.label=='L'?'low glucose level':datum.label=='M'?'moderate glucose level':'high glucose level'"}}}},
  {"data":{"name":"mk"},"transform":[{"filter":"datum.p==='c'"}],"mark":{"type":"circle","size":20,"opacity":1},
   "encoding":{"x":{"field":"t","type":"quantitative"},"y":{"field":"v","type":"quantitative"},"color":{"field":"s","type":"nominal"}}}
 ]},
{"width":287,"height":140,
 "title":{"text":"(d)","orient":"bottom","anchor":"start","frame":"group","dx":95,"offset":-14},
 "layer":[
  {"data":{"name":"cv"},"transform":[{"filter":"datum.p==='d'"}],"mark":{"type":"errorband","interpolate":"monotone","band":{"opacity":0.3}},
   "encoding":{"x":{"field":"t","type":"quantitative","scale":{"domain":[0,0.7],"nice":false},"axis":{"values":[0,0.1,0.2,0.3,0.4,0.5,0.6],"format":".1f","title":"Time (s)"}},
    "y":{"field":"v","type":"quantitative","scale":{"domain":[-0.1,1.1],"nice":false},"axis":{"values":[0,0.25,0.5,0.75,1],"format":".2f","title":"Voltage (mV)"}},
    "yError":{"field":"e"},
    "color":{"field":"s","type":"nominal","scale":{"domain":["L","M","H"],"range":["#008000","#0000ff","#ff0000"]},"legend":{"orient":"top-right","title":null,"symbolType":"stroke","symbolOpacity":1,"labelExpr":"datum.label=='L'?'low glucose level':datum.label=='M'?'moderate glucose level':'high glucose level'"}}}},
  {"data":{"name":"cv"},"transform":[{"filter":"datum.p==='d'"}],"mark":{"type":"line","interpolate":"monotone","strokeWidth":1.6},
   "encoding":{"x":{"field":"t","type":"quantitative"},"y":{"field":"v","type":"quantitative"},
    "color":{"field":"s","type":"nominal","legend":{"orient":"top-right","title":null,"symbolType":"stroke","symbolOpacity":1,"labelExpr":"datum.label=='L'?'low glucose level':datum.label=='M'?'moderate glucose level':'high glucose level'"}}}},
  {"data":{"name":"mk"},"transform":[{"filter":"datum.p==='d'"}],"mark":{"type":"circle","size":20,"opacity":1},
   "encoding":{"x":{"field":"t","type":"quantitative"},"y":{"field":"v","type":"quantitative"},"color":{"field":"s","type":"nominal"}}}
 ]}
],"spacing":12,"resolve":{"scale":{"color":"independent"},"legend":{"color":"independent"}}}
],
"spacing":5,
"resolve":{"scale":{"color":"independent"},"legend":{"color":"independent"}},
"config":{
 "view":{"stroke":"#333333","strokeWidth":1},
 "title":{"font":"Liberation Serif","fontSize":13,"fontWeight":"normal","color":"#000000"},
 "axis":{"domain":false,"tickColor":"#333333","tickSize":3,"labelFont":"Liberation Serif","labelFontWeight":"bold","labelFontSize":10,"labelColor":"#000000","titleFont":"Liberation Serif","titleFontWeight":"bold","titleFontSize":10,"titleColor":"#000000","gridColor":"#c8c8c8","gridWidth":1,"labelPadding":2,"titlePadding":4},
 "legend":{"symbolType":"stroke","symbolOpacity":1,"strokeColor":"#cccccc","fillColor":"rgba(255,255,255,0.85)","padding":4,"cornerRadius":3,"offset":5,"labelFont":"Liberation Serif","labelFontWeight":"bold","labelFontSize":10,"labelColor":"#000000","symbolStrokeWidth":2,"symbolSize":260,"rowPadding":1,"labelOffset":8}
}
}
